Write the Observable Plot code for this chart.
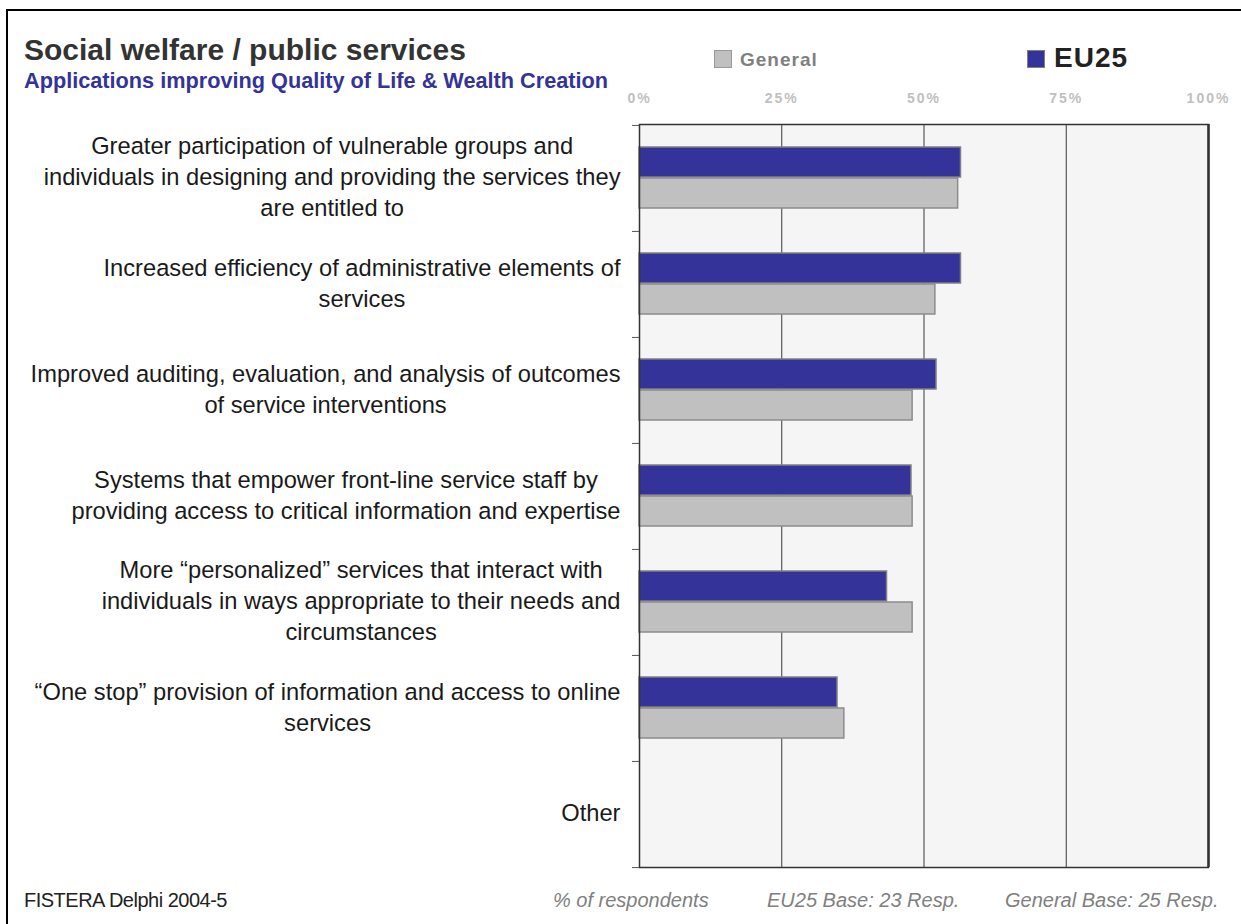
<!DOCTYPE html>
<html><head><meta charset="utf-8">
<script src="https://cdn.jsdelivr.net/npm/d3@7"></script>
<script src="https://cdn.jsdelivr.net/npm/@observablehq/plot@0.6"></script>
<style>
html,body{margin:0;padding:0;background:#fff;width:1241px;height:924px;overflow:hidden;font-family:"Liberation Sans",Arial,sans-serif;}
#border{position:absolute;left:6px;top:9px;width:1400px;height:1100px;border-left:2px solid #000;border-top:2px solid #000;}
.abs{position:absolute;white-space:nowrap;line-height:1;}
#title{left:24px;top:34.5px;font-size:30px;font-weight:bold;color:#333;}
#subtitle{left:24px;top:70px;font-size:21.7px;font-weight:bold;color:#333399;}
.sw{position:absolute;width:16px;height:16px;}
#swGen{left:714px;top:50px;background:#c0c0c0;border:1px solid #999;}
#swEu{left:1027px;top:50px;background:#333399;border:1px solid #808080;}
#lgGen{left:740px;top:50px;font-size:19px;font-weight:bold;color:#808080;letter-spacing:1px;}
#lgEu{left:1054px;top:44px;font-size:28px;font-weight:bold;color:#222;letter-spacing:1px;}
.foot{top:890px;font-size:20px;color:#808080;font-style:italic;}
#src{left:24px;top:890px;font-size:20px;color:#222;letter-spacing:-0.5px;}
#chart{position:absolute;left:0;top:80px;}
#chart g[aria-label="x-axis tick label"] text{letter-spacing:2px;}
</style></head>
<body>
<div id="border"></div>
<div class="abs" id="title">Social welfare / public services</div>
<div class="abs" id="subtitle">Applications improving Quality of Life &amp; Wealth Creation</div>
<div class="sw" id="swGen"></div><div class="abs" id="lgGen">General</div>
<div class="sw" id="swEu"></div><div class="abs" id="lgEu">EU25</div>
<div id="chart"></div>
<div class="abs" id="src">FISTERA Delphi 2004-5</div>
<div class="abs foot" style="left:553px">% of respondents</div>
<div class="abs foot" style="left:767px">EU25 Base: 23 Resp.</div>
<div class="abs foot" style="left:1005px">General Base: 25 Resp.</div>
<script>
const categories = [
  "Greater participation of vulnerable groups and\nindividuals in designing and providing the services they\nare entitled to",
  "Increased efficiency of administrative elements of\nservices",
  "Improved auditing, evaluation, and analysis of outcomes\nof service interventions",
  "Systems that empower front-line service staff by\nproviding access to critical information and expertise",
  "More \u201cpersonalized\u201d services that interact with\nindividuals in ways appropriate to their needs and\ncircumstances",
  "\u201cOne stop\u201d provision of information and access to online\nservices",
  "Other"
];
const eu25 = [56.5, 56.5, 52.2, 47.8, 43.5, 34.8, 0];
const general = [56, 52, 48, 48, 48, 36, 0];
const xTicks = [0, 25, 50, 75, 100];
const gridTicks = [25, 50, 75];

const euData = categories.map((c, i) => ({cat: c, value: eu25[i]}));
const genData = categories.map((c, i) => ({cat: c, value: general[i]}));
const half = 743 / 14;

const chart = Plot.plot({
  width: 1241, height: 800,
  marginTop: 44, marginBottom: 13, marginLeft: 639, marginRight: 33,
  style: {fontFamily: '"Liberation Sans", Arial, sans-serif', background: "transparent", overflow: "visible"},
  x: {domain: [0, 100], axis: null, label: null},
  y: {domain: categories, padding: 0, axis: null, label: null},
  marks: [
    Plot.frame({fill: "#f5f5f5"}),
    Plot.gridX(gridTicks, {stroke: "#3a3a3a", strokeOpacity: 1, strokeWidth: 1}),
    Plot.barX(euData, {y: "cat", x: "value", fill: "#333399", stroke: "#808080", strokeWidth: 1.5, insetTop: 22, insetBottom: 54}),
    Plot.barX(genData, {y: "cat", x: "value", fill: "#c0c0c0", stroke: "#8c8c8c", strokeWidth: 1.5, insetTop: 53, insetBottom: 23}),
    Plot.frame({stroke: "#333", strokeWidth: 1.5}),
    Plot.ruleX([100], {stroke: "#333", strokeWidth: 2.5}),
    Plot.axisX(xTicks, {anchor: "top", tickSize: 0, tickPadding: 22, tickFormat: d => d + "%", fill: "#c0c0c0", fontSize: 14, fontWeight: "bold", label: null}),
    Plot.axisY({anchor: "left", tickSize: 7, fill: "none", stroke: "#555", dy: -half, label: null}),
    Plot.axisY([categories[categories.length - 1]], {anchor: "left", tickSize: 7, fill: "none", stroke: "#555", dy: half, label: null}),
    Plot.axisY({anchor: "left", tickSize: 0, tickPadding: 19, fontSize: 23.7, lineHeight: 1.31, fill: "#1a1a1a", dy: -3, tickFormat: d => d, label: null})
  ]
});
document.getElementById("chart").append(chart);
chart.querySelectorAll('g[aria-label="y-axis tick label"] text').forEach(t => {
  const spans = t.querySelectorAll("tspan");
  if (!spans.length) return;
  let max = 0;
  spans.forEach(s => { max = Math.max(max, s.getComputedTextLength()); });
  t.setAttribute("text-anchor", "middle");
  spans.forEach(s => s.setAttribute("x", -max / 2));
});
</script>
</body></html>
